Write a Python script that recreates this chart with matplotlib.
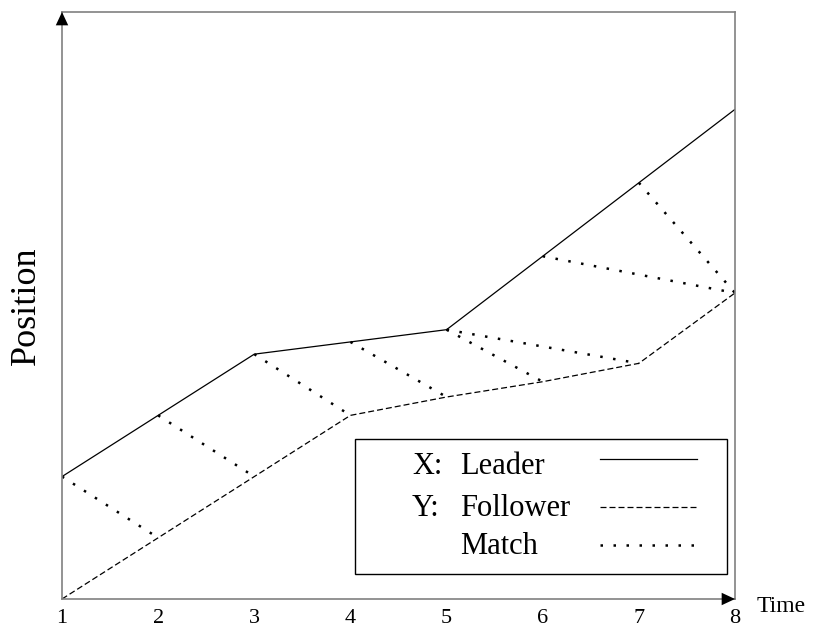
import matplotlib
matplotlib.use("Agg")
import matplotlib.pyplot as plt
from matplotlib.patches import Rectangle

plt.rcParams['font.family'] = ['Liberation Serif', 'DejaVu Serif']

# time steps and positions of the two trajectories
time = [1, 2, 3, 4, 5, 6, 7, 8]
leader = [2.0, 3.0, 4.0, 4.2, 4.4, 5.6, 6.8, 8.0]
follower = [0.0, 1.0, 2.0, 3.0, 3.3, 3.55, 3.85, 5.0]

# matched pairs: (leader time, follower time)
matches = [(1, 2), (2, 3), (3, 4), (4, 5), (5, 6), (5, 7), (6, 8), (7, 8)]

dot_style = (0, (1, 4.2))
dash_style = (0, (4.8, 2.4))

fig = plt.figure(figsize=(8.18, 6.33), dpi=100)
ax = fig.add_axes([62 / 818, 34 / 633, 673 / 818, 587 / 633])

ax.plot(time, leader, color='black', lw=0.9, solid_capstyle='butt')
ax.plot(time, follower, color='black', lw=0.9, linestyle=dash_style)

for tl, tf in matches:
    ax.plot([tl, tf], [leader[time.index(tl)], follower[time.index(tf)]],
            color='black', lw=1.8, linestyle=dot_style)

ax.set_xlim(1, 8)
ax.set_ylim(0, 9.59)
ax.set_xticks(time)
ax.set_xticklabels([str(t) for t in time], fontsize=16)
ax.set_yticks([])
ax.tick_params(axis='x', length=0, pad=7)

for side in ax.spines.values():
    side.set_color('#808080')
    side.set_linewidth(1.2)

# arrow heads on the axes
head = dict(arrowstyle='-|>,head_length=0.6,head_width=0.28', color='black',
            lw=0, mutation_scale=16, shrinkA=0, shrinkB=0)
ax.annotate('', xy=(0, 1), xytext=(0, 0.97), xycoords='axes fraction',
            arrowprops=head, annotation_clip=False)
ax.annotate('', xy=(1, 0), xytext=(0.97, 0), xycoords='axes fraction',
            arrowprops=head, annotation_clip=False)

fig.text(26 / 818, 1 - 306 / 633, 'Position', rotation=90, fontsize=26,
         ha='center', va='center')
fig.text(757 / 818, 1 - 606 / 633, 'Time', fontsize=17, ha='left', va='center')

# legend box
def fx(px):
    return (px - 62) / 673


def fy(py):
    return (599 - py) / 587


ax.add_patch(Rectangle((fx(355), fy(574)), fx(727) - fx(355), fy(439) - fy(574),
                       transform=ax.transAxes, facecolor='white',
                       edgecolor='black', lw=1.0, zorder=5))
rows = [('X:', 'Leader', 467, 459, '-'),
        ('Y:', 'Follower', 508, 507, dash_style),
        ('', 'Match', 546, 545, dot_style)]
for prefix, name, ty, ly, style in rows:
    if prefix:
        ax.text(fx(412), fy(ty), prefix, transform=ax.transAxes, fontsize=22,
                ha='left', va='center', zorder=6)
    ax.text(fx(460), fy(ty), name, transform=ax.transAxes, fontsize=22,
            ha='left', va='center', zorder=6)
    ax.plot([fx(600), fx(697)], [fy(ly), fy(ly)], transform=ax.transAxes,
            color='black', lw=1.8 if style is dot_style else 0.9,
            linestyle=style, zorder=6)

fig.savefig('out.png', dpi=100)
